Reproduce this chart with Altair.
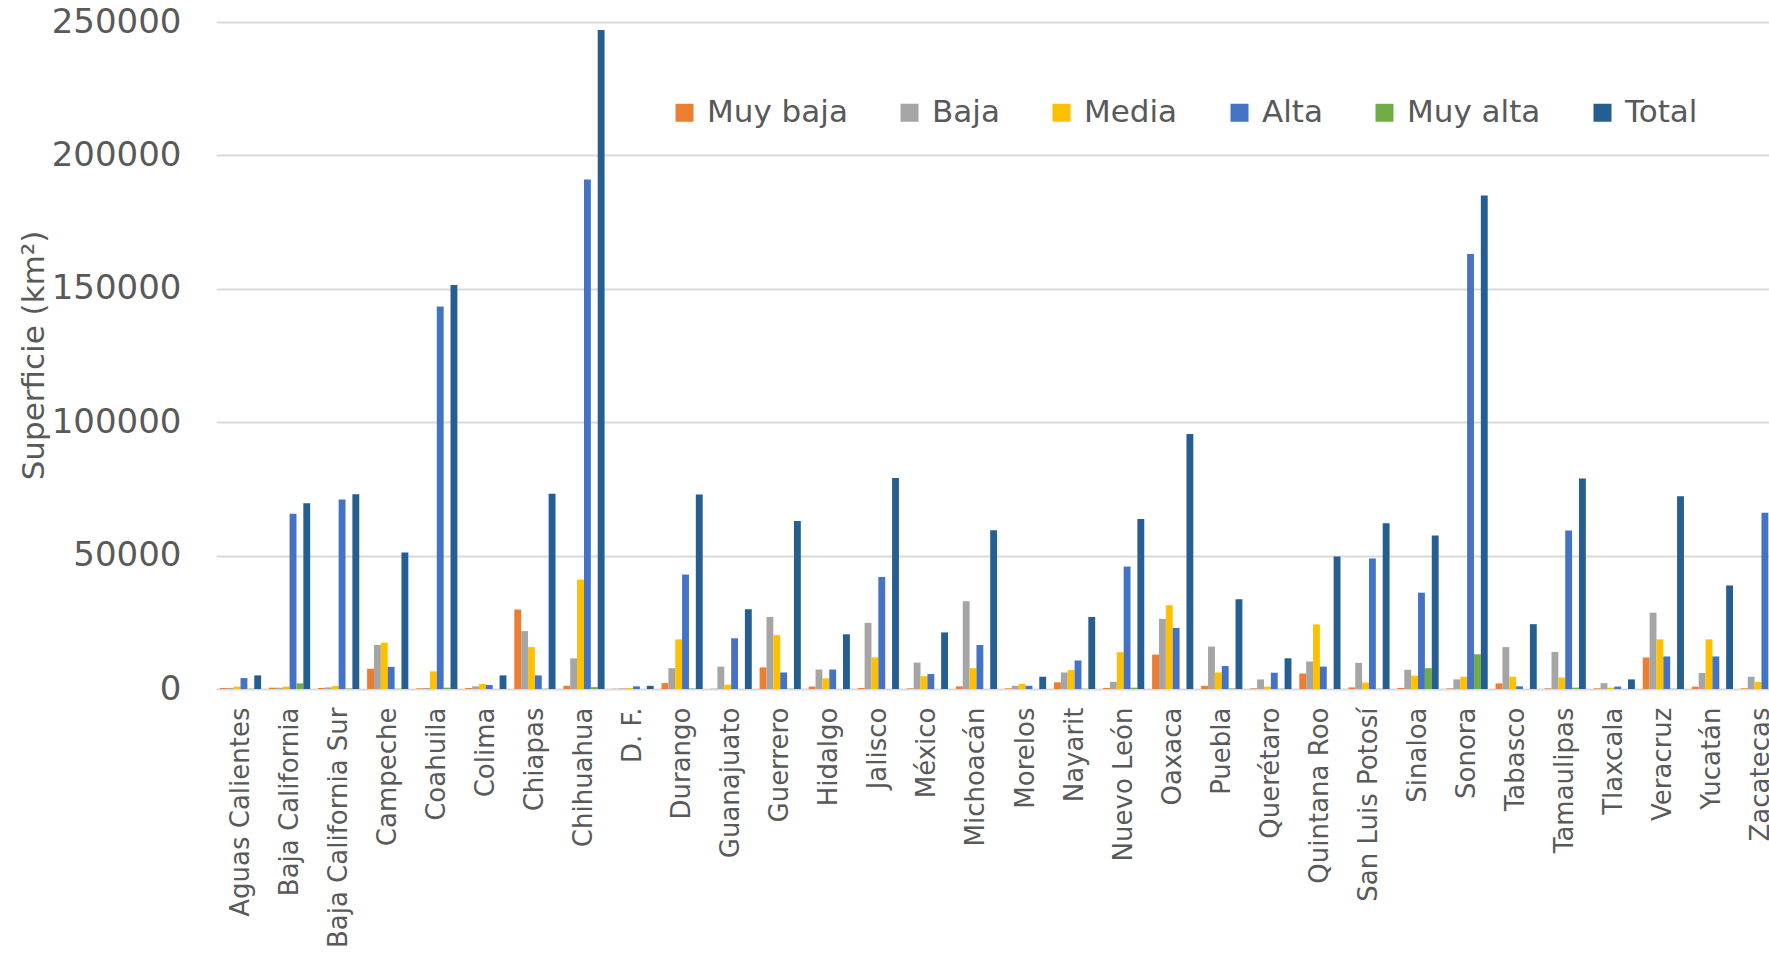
import altair as alt
import pandas as pd

estados = ["Aguas Calientes", "Baja California", "Baja California Sur", "Campeche",
           "Coahuila", "Colima", "Chiapas", "Chihuahua", "D. F.", "Durango",
           "Guanajuato", "Guerrero", "Hidalgo", "Jalisco", "México", "Michoacán",
           "Morelos", "Nayarit", "Nuevo León", "Oaxaca", "Puebla", "Querétaro",
           "Quintana Roo", "San Luis Potosí", "Sinaloa", "Sonora", "Tabasco",
           "Tamaulipas", "Tlaxcala", "Veracruz", "Yucatán", "Zacatecas"]

series_names = ["Muy baja", "Baja", "Media", "Alta", "Muy alta", "Total"]

muy_baja = [400, 500, 400, 7600, 250, 400, 29800, 1200, 100, 2200, 100, 8100, 900, 400,
            250, 1000, 250, 2500, 400, 12900, 1200, 250, 5800, 600, 400, 250, 2100, 250,
            250, 11800, 900, 250]
baja = [400, 500, 600, 16500, 400, 1000, 21700, 11500, 250, 7800, 8400, 27000, 7300, 24800,
        9900, 32900, 1200, 6200, 2700, 26300, 15900, 3600, 10300, 9800, 7200, 3600, 15700,
        13900, 2200, 28600, 6000, 4600]
media = [900, 900, 1100, 17400, 6600, 1900, 15700, 41000, 400, 18600, 1600, 20200, 4000,
         11900, 4800, 7800, 1900, 7100, 13800, 31400, 6200, 900, 24200, 2400, 5000, 4600,
         4600, 4300, 500, 18600, 18600, 2600]
alta = [4100, 65700, 71000, 8300, 143400, 1500, 5100, 191000, 1000, 42900, 19000, 6200,
        7300, 42000, 5600, 16500, 1200, 10700, 45900, 22900, 8600, 6100, 8400, 48900,
        36100, 163000, 1000, 59400, 900, 12200, 12200, 66100]
muy_alta = [100, 2100, 200, 100, 500, 0, 100, 700, 0, 200, 0, 100, 0, 0, 0, 0, 0, 100, 500,
            0, 200, 100, 0, 100, 7800, 13000, 0, 500, 0, 100, 0, 0]
total = [5100, 69600, 73000, 51200, 151400, 5100, 73200, 247000, 1200, 72900, 29900, 63000,
         20500, 79100, 21200, 59500, 4600, 27000, 63700, 95600, 33600, 11500, 49700, 62100,
         57500, 185000, 24300, 78900, 3600, 72200, 38800, 75300]

y_ticks = [0, 50000, 100000, 150000, 200000, 250000]
colors = ["#ED7D31", "#A5A5A5", "#FFC000", "#4472C4", "#70AD47", "#255E91"]

rows = []
for name, vals in zip(series_names, [muy_baja, baja, media, alta, muy_alta, total]):
    for estado, v in zip(estados, vals):
        rows.append({"Estado": estado, "Serie": name, "Valor": v})
df = pd.DataFrame(rows)

FONT = "DejaVu Sans"
GREY = "#595959"

chart = alt.Chart(df).mark_bar(clip=True).encode(
    x=alt.X("Estado:N", sort=estados,
            scale=alt.Scale(range=[2, 1572], paddingInner=0.16, paddingOuter=0.08),
            axis=alt.Axis(title=None, labelAngle=-90, labelFontSize=26, labelColor=GREY,
                          labelFont=FONT, ticks=False, domain=False, labelPadding=18,
                          labelLimit=400)),
    xOffset=alt.XOffset("Serie:N", sort=series_names,
                        scale=alt.Scale(paddingInner=0.0, paddingOuter=0.0)),
    y=alt.Y("Valor:Q", scale=alt.Scale(domain=[0, 250000], nice=False),
            axis=alt.Axis(values=y_ticks, title="Superficie (km²)", format="d",
                          labelFontSize=34, labelColor=GREY, labelFont=FONT,
                          labelPadding=33, ticks=False, domain=False,
                          gridColor="#D9D9D9", gridWidth=2,
                          titleFontSize=31, titleFont=FONT, titleColor=GREY,
                          titleFontWeight="normal", titleX=-180, titleY=333,
                          titleAlign="center", titleBaseline="middle")),
    color=alt.Color("Serie:N", sort=series_names,
                    scale=alt.Scale(domain=series_names, range=colors),
                    legend=alt.Legend(title=None, orient="none", legendX=455, legendY=75,
                                      direction="horizontal", labelFontSize=31,
                                      labelColor=GREY, labelFont=FONT,
                                      symbolType="square", symbolSize=324,
                                      symbolStrokeWidth=0, labelOffset=7,
                                      columnPadding=46)),
).properties(
    width=1555, height=667,
    autosize=alt.AutoSizeParams(type="none"),
    padding={"left": 214, "top": 22, "right": 0, "bottom": 262},
).configure_view(stroke=None)

chart.save("out.html", embed_options={"renderer": "svg", "actions": False})
